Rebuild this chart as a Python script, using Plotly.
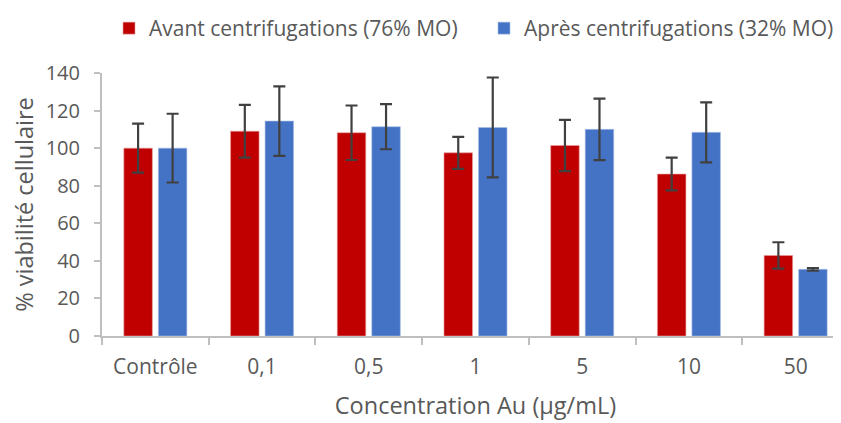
import plotly.graph_objects as go

categories = ["Contrôle", "0,1", "0,5", "1", "5", "10", "50"]
avant = [100, 109, 108.2, 97.5, 101.4, 86.2, 42.9]
avant_err = [13, 14, 14.5, 8.5, 13.6, 8.7, 7]
apres = [100, 114.4, 111.4, 111, 110, 108.4, 35.5]
apres_err = [18.3, 18.5, 12, 26.6, 16.4, 16, 0.7]
y_ticks = [0, 20, 40, 60, 80, 100, 120, 140]

FONT = "Open Sans"
GREY = "#595959"
AXIS = "#bfbfbf"
W, H = 841, 423

fig = go.Figure()
fig.add_trace(go.Bar(
    x=categories, y=avant, name="Avant centrifugations (76% MO)", legend="legend",
    marker=dict(color="#C00000", line=dict(color="#e8a0a0", width=0.6)),
    error_y=dict(type="data", array=avant_err, color="#404040", thickness=2.2, width=6),
))
fig.add_trace(go.Bar(
    x=categories, y=apres, name="Après centrifugations (32% MO)", legend="legend2",
    marker=dict(color="#4472C4", line=dict(color="#a9c0e8", width=0.6)),
    error_y=dict(type="data", array=apres_err, color="#404040", thickness=2.2, width=6),
))

legend_common = dict(orientation="h", xref="container", yref="container",
                     yanchor="top", y=1.0,
                     font=dict(family=FONT, size=21, color=GREY),
                     bgcolor="rgba(0,0,0,0)")

fig.update_layout(
    width=W, height=H,
    margin=dict(l=94, r=0, t=65, b=95),
    paper_bgcolor="white", plot_bgcolor="white",
    barmode="group", bargap=0.353, bargroupgap=0.174,
    font=dict(family=FONT, color=GREY, size=21),
    showlegend=True,
    legend=dict(x=101 / W, xanchor="left", **legend_common),
    legend2=dict(x=831 / W, xanchor="right", **legend_common),
    xaxis=dict(
        type="category", range=[-0.5, 6.5], automargin=False,
        showline=True, linecolor=AXIS, linewidth=2,
        ticks="outside", tickson="boundaries", ticklen=7, tickcolor=AXIS, tickwidth=2,
        ticklabelstandoff=11,
        tickfont=dict(family=FONT, size=21, color=GREY),
        title=dict(text="Concentration Au (µg/mL)", font=dict(family=FONT, size=23.5, color=GREY), standoff=18),
        showgrid=False, zeroline=False,
    ),
    yaxis=dict(
        range=[0, 140], tickvals=y_ticks, automargin=False,
        showline=True, linecolor=AXIS, linewidth=2,
        ticks="outside", ticklen=6, tickcolor=AXIS, tickwidth=2,
        ticklabelstandoff=10,
        tickfont=dict(family=FONT, size=20, color=GREY),
        title=dict(text="% viabilité cellulaire", font=dict(family=FONT, size=23.5, color=GREY), standoff=13),
        showgrid=False, zeroline=False,
    ),
)

fig.write_html("out.html")
